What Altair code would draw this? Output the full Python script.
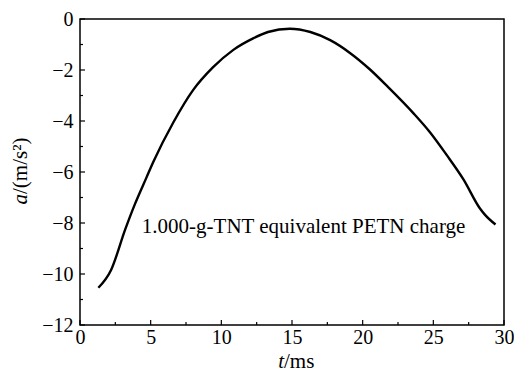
import altair as alt
import pandas as pd

# Curve data
t_ms = [1.3, 2.2, 3.2, 3.9, 4.7, 5.2, 6.6, 8.0, 9.4, 10.85, 12.25, 13.3, 14.85,
        16.3, 17.7, 19.1, 20.5, 21.8, 23.6, 24.76, 25.94, 27.13, 28.3, 28.66, 29.4]
accel = [-10.54, -9.84, -8.25, -7.24, -6.22, -5.59, -4.06, -2.79, -1.90, -1.21,
         -0.76, -0.51, -0.38, -0.51, -0.83, -1.33, -1.97, -2.67, -3.70, -4.44,
         -5.33, -6.29, -7.43, -7.68, -8.06]

# Tick values
x_major = [0, 5, 10, 15, 20, 25, 30]
x_minor = [2.5, 7.5, 12.5, 17.5, 22.5, 27.5]
y_major = [-12, -10, -8, -6, -4, -2, 0]
y_minor = [-11, -9, -7, -5, -3, -1]

# Annotation
label_text = ["1.000-g-TNT equivalent PETN charge"]
label_t = [15.82]
label_a = [-8.15]

# Axis titles (italic symbol + upright unit)
x_sym, x_unit = "t", "/ms"
y_sym, y_unit = "a", "/(m/s²)"

W, H = 424, 306
FONT = "Liberation Serif, Times New Roman, Times, serif"

xs = alt.Scale(domain=[0, 30], nice=False, zero=False)
ys = alt.Scale(domain=[-12, 0], nice=False, zero=False)

df = pd.DataFrame({"t": t_ms, "a": accel})

line = alt.Chart(df).mark_line(
    color="black", strokeWidth=2.4, interpolate="monotone"
).encode(
    x=alt.X("t:Q", scale=xs,
            axis=alt.Axis(values=x_major, title=None, labelPadding=2,
                          labelFlush=False, format="d")),
    y=alt.Y("a:Q", scale=ys,
            axis=alt.Axis(values=y_major, title=None, labelPadding=7,
                          labelFlush=False, format="d")),
)

def vticks(vals, length):
    return alt.Chart(pd.DataFrame({"a": vals})).mark_rule(
        color="black", strokeWidth=1.2
    ).encode(
        y=alt.Y("a:Q", scale=ys),
        x=alt.value(0), x2=alt.value(length),
    )

def hticks(vals, length):
    return alt.Chart(pd.DataFrame({"t": vals})).mark_rule(
        color="black", strokeWidth=1.2
    ).encode(
        x=alt.X("t:Q", scale=xs),
        y=alt.value(H), y2=alt.value(H - length),
    )

text = alt.Chart(pd.DataFrame({"t": label_t, "a": label_a, "s": label_text})).mark_text(
    font=FONT, fontSize=21, color="black", align="center", baseline="middle"
).encode(
    x=alt.X("t:Q", scale=xs),
    y=alt.Y("a:Q", scale=ys),
    text="s:N",
)

def title_part(s, style, align, x, y, angle=0):
    return alt.Chart(pd.DataFrame({"s": [s]})).mark_text(
        font=FONT, fontSize=21, color="black", fontStyle=style,
        align=align, baseline="middle", angle=angle
    ).encode(text="s:N", x=alt.value(x), y=alt.value(y))

xt1 = title_part(x_sym, "italic", "right", 204, 343)
xt2 = title_part(x_unit, "normal", "left", 204, 343)
yt1 = title_part(y_sym, "italic", "right", -59, 175, angle=270)
yt2 = title_part(y_unit, "normal", "left", -59, 175, angle=270)

chart = alt.layer(
    line, vticks(y_major, 5), vticks(y_minor, 3),
    hticks(x_major, 5), hticks(x_minor, 3), text,
    xt1, xt2, yt1, yt2
).properties(
    width=W, height=H,
    autosize=alt.AutoSizeParams(type="none"),
    padding={"left": 72, "top": 11, "right": 10, "bottom": 48},
).configure_view(
    stroke="black", strokeWidth=1.5
).configure_axis(
    domain=False, ticks=False, tickSize=0, grid=False,
    labelFont=FONT, labelFontSize=20, labelColor="black",
    titleFont=FONT, titleFontSize=20, titleColor="black",
    titleFontWeight="normal",
)

chart.save("out.html", embed_options={"renderer": "svg", "actions": False})
